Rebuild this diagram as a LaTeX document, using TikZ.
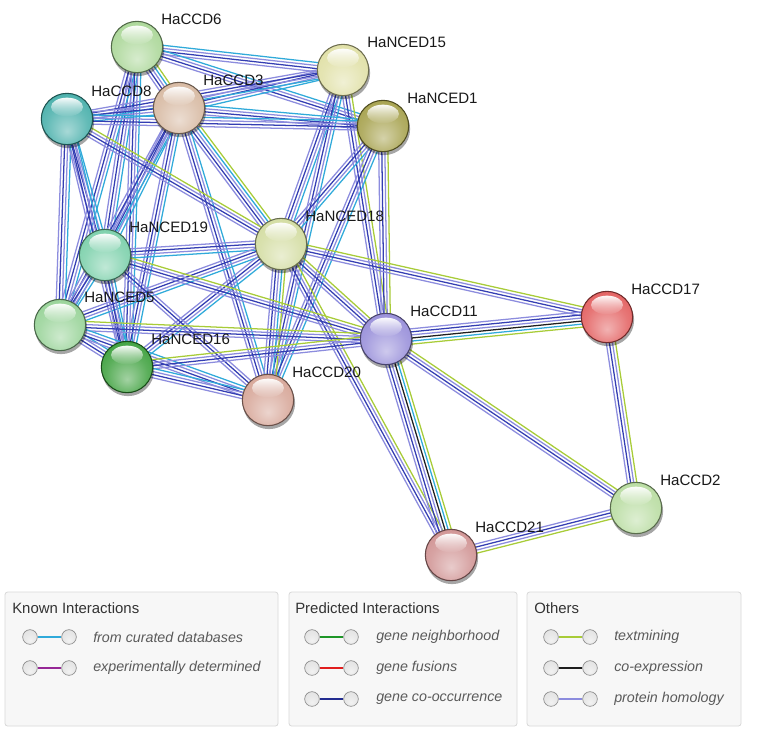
\documentclass[tikz,border=0pt]{standalone}
\usepackage{fontspec}
\setmainfont{Liberation Sans}
\usetikzlibrary{calc,backgrounds,fadings}
\definecolor{hm}{RGB}{140,140,222}
\definecolor{co}{RGB}{52,62,178}
\definecolor{db}{RGB}{48,170,218}
\definecolor{tm}{RGB}{168,204,56}
\definecolor{cx}{RGB}{30,30,30}
\definecolor{ex}{RGB}{150,40,150}
\definecolor{gn}{RGB}{30,150,40}
\definecolor{gf}{RGB}{225,30,30}
\definecolor{gc}{RGB}{35,45,145}
\definecolor{legtxt}{RGB}{90,90,90}
\definecolor{cA}{RGB}{165,212,145}
\definecolor{cB}{RGB}{222,222,160}
\definecolor{cC}{RGB}{212,180,155}
\definecolor{cD}{RGB}{60,170,165}
\definecolor{cE}{RGB}{160,155,65}
\definecolor{cF}{RGB}{208,218,155}
\definecolor{cG}{RGB}{115,205,165}
\definecolor{cH}{RGB}{145,208,145}
\definecolor{cI}{RGB}{50,155,50}
\definecolor{cJ}{RGB}{145,135,215}
\definecolor{cK}{RGB}{225,85,85}
\definecolor{cL}{RGB}{212,160,145}
\definecolor{cM}{RGB}{180,218,155}
\definecolor{cN}{RGB}{205,140,140}
\definecolor{cLeg}{RGB}{225,225,225}
\makeatletter
\pgfdeclareradialshading[tikz@ball]{strball}{\pgfpoint{0bp}{-12bp}}{color(0bp)=(tikz@ball!45!white); color(20bp)=(tikz@ball!80!white); color(38bp)=(tikz@ball); color(52bp)=(tikz@ball!55!black)}
\makeatother
\tikzfading[name=hlfade, top color=transparent!5, bottom color=transparent!100]
\tikzset{
  ballnode/.style={circle, minimum size=38.5pt, inner sep=0pt},
  lbl/.style={anchor=west, inner sep=0pt, font=\fontsize{11.3}{13}\selectfont, text=black!90},
  legbox/.style={draw=black!15, fill=black!3, rounded corners=2pt, line width=0.6pt},
  leghead/.style={anchor=west, inner sep=0pt, font=\fontsize{11.2}{13}\selectfont, text=black!80},
  legitem/.style={anchor=west, inner sep=0pt, font=\fontsize{10.7}{12}\selectfont\itshape, text=legtxt},
  legball/.style={circle, minimum size=11pt, inner sep=0pt, ball color=cLeg, shading=strball, draw=black!45, line width=0.5pt},
  edgeline/.style={line width=0.95pt}
}
\newcommand\lnk[3]{%
  \foreach \cl [count=\ii] in {#3} {\xdef\nn{\ii}}%
  \foreach \cl [count=\ii] in {#3} {%
    \pgfmathsetmacro\off{(\ii-(\nn+1)/2)*2.3}%
    \draw[edgeline,\cl] ($(#1)!\off pt!90:(#2)$) -- ($(#2)!\off pt!-90:(#1)$);
  }}
\newcommand\ball[5]{%
  \fill[black, opacity=0.35] (#2+1,#3+3) circle (19.6pt);
  \node[ballnode, ball color=#4, shading=strball, draw=#4!50!black, line width=0.8pt] (#1) at (#2,#3) {};
  \fill[white, path fading=hlfade] (#2,#3-12) ellipse (12pt and 7pt);
  \node[lbl] (#1l) at (#2+24,#3-28) {#5};
}
\newcommand\legicon[4]{%
  \node[legball] (#1a) at (#2,#3) {};
  \node[legball] (#1b) at (#2+39,#3) {};
  \draw[#4, line width=2.2pt] (#1a) -- (#1b);
}
\begin{document}
\begin{tikzpicture}[x=0.75pt,y=-0.75pt]
\useasboundingbox (0,0) rectangle (762,736);
% nodes
\ball{n6}{137}{47}{cA}{HaCCD6}
\ball{n15}{343}{70}{cB}{HaNCED15}
\ball{n3}{179}{108}{cC}{HaCCD3}
\ball{n8}{67}{119}{cD}{HaCCD8}
\ball{n1}{383}{126}{cE}{HaNCED1}
\ball{n18}{281}{244}{cF}{HaNCED18}
\ball{n19}{105}{255}{cG}{HaNCED19}
\ball{n5}{60}{325}{cH}{HaNCED5}
\ball{n16}{127}{367}{cI}{HaNCED16}
\ball{n11}{386}{339}{cJ}{HaCCD11}
\ball{n17}{607}{317}{cK}{HaCCD17}
\ball{n20}{268}{400}{cL}{HaCCD20}
\ball{n2}{636}{508}{cM}{HaCCD2}
\ball{n21}{451}{555}{cN}{HaCCD21}
% edges
\begin{scope}[on background layer]
\fill[white] (0,0) rectangle (762,736);
\lnk{n6}{n15}{hm,co,hm,db}
\lnk{n6}{n3}{hm,co,hm,db,tm}
\lnk{n6}{n1}{hm,co,hm,db}
\lnk{n6}{n19}{hm,co,hm,db}
\lnk{n6}{n5}{hm,co,hm,db}
\lnk{n6}{n16}{hm,co,hm,db}
\lnk{n15}{n3}{hm,co,hm,db}
\lnk{n15}{n8}{hm,co,hm,db}
\lnk{n15}{n18}{hm,co,hm,db}
\lnk{n15}{n11}{hm,co,hm,tm}
\lnk{n15}{n20}{hm,co,hm,db}
\lnk{n3}{n8}{hm,co,hm,db}
\lnk{n3}{n1}{hm,co,hm,db}
\lnk{n3}{n18}{hm,co,hm,db,tm}
\lnk{n3}{n19}{hm,co,hm,db}
\lnk{n3}{n5}{hm,co,hm,db}
\lnk{n3}{n16}{hm,co,hm,db}
\lnk{n3}{n20}{hm,co,hm,db}
\lnk{n8}{n1}{hm,co,hm,db}
\lnk{n8}{n18}{hm,co,hm,tm}
\lnk{n8}{n19}{hm,co,hm,db}
\lnk{n8}{n5}{hm,co,hm,db}
\lnk{n8}{n16}{hm,co,hm,db}
\lnk{n1}{n18}{hm,co,hm,db}
\lnk{n1}{n11}{hm,co,hm,tm}
\lnk{n1}{n20}{hm,co,hm,db}
\lnk{n18}{n19}{hm,co,hm,db}
\lnk{n18}{n5}{hm,co,hm,db}
\lnk{n18}{n16}{hm,co,hm,db}
\lnk{n18}{n11}{hm,co,hm,tm}
\lnk{n18}{n17}{hm,co,hm,tm}
\lnk{n18}{n20}{hm,co,hm,db,tm}
\lnk{n18}{n21}{hm,co,hm,tm}
\lnk{n19}{n5}{hm,co,hm,db}
\lnk{n19}{n16}{hm,co,hm,db}
\lnk{n19}{n11}{hm,co,hm,tm}
\lnk{n19}{n20}{hm,co,hm}
\lnk{n5}{n16}{hm,co,hm,db}
\lnk{n5}{n11}{hm,co,hm,tm}
\lnk{n5}{n20}{hm,co,hm,db}
\lnk{n16}{n11}{hm,co,hm,tm}
\lnk{n16}{n20}{hm,co,hm,db}
\lnk{n17}{n11}{hm,co,hm,cx,db,tm}
\lnk{n11}{n2}{hm,co,hm,tm}
\lnk{n11}{n21}{hm,co,hm,cx,db,tm}
\lnk{n17}{n2}{hm,co,hm,tm}
\lnk{n2}{n21}{hm,co,hm,tm}
\end{scope}
% legend
\draw[legbox] (5,592) rectangle (278,726);
\draw[legbox] (289,592) rectangle (517,726);
\draw[legbox] (527,592) rectangle (741,726);
\node[leghead] (h1) at (12,608) {Known Interactions};
\node[leghead] (h2) at (295,608) {Predicted Interactions};
\node[leghead] (h3) at (534,608) {Others};
\legicon{la}{30}{637}{db}
\node[legitem] (ta) at (93,637) {from curated databases};
\legicon{lb}{30}{668}{ex}
\node[legitem] (tb) at (93,668) {experimentally determined};
\legicon{lc}{312}{637}{gn}
\node[legitem] (tc) at (376,637) {gene neighborhood};
\legicon{ld}{312}{668}{gf}
\node[legitem] (td) at (376,668) {gene fusions};
\legicon{le}{312}{699}{gc}
\node[legitem] (te) at (376,699) {gene co-occurrence};
\legicon{lf}{551}{637}{tm}
\node[legitem] (tf) at (614,637) {textmining};
\legicon{lg}{551}{668}{cx}
\node[legitem] (tg) at (614,668) {co-expression};
\legicon{lh}{551}{699}{hm}
\node[legitem] (th) at (614,699) {protein homology};
\end{tikzpicture}
\end{document}
